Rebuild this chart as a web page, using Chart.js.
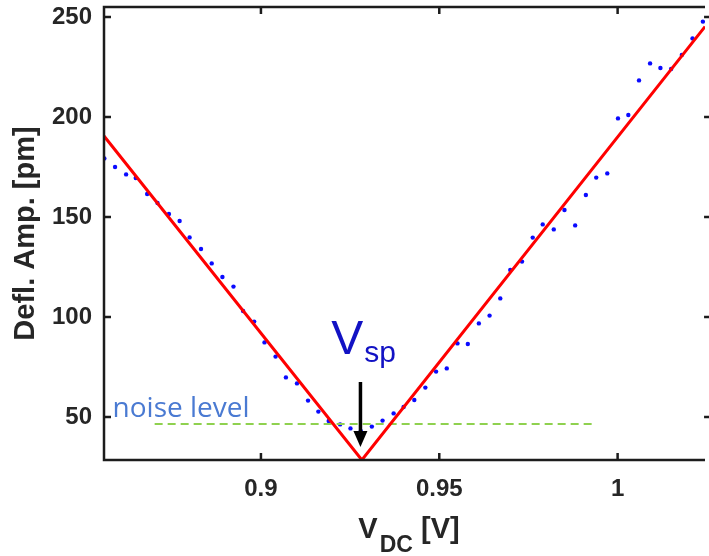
<!DOCTYPE html>
<html>
<head>
<meta charset="utf-8">
<title>Deflection amplitude vs DC bias</title>
<script src="https://cdn.jsdelivr.net/npm/chart.js@4/dist/chart.umd.min.js"></script>
<style>
  html, body { margin: 0; padding: 0; background: #ffffff; }
  #wrap { width: 709px; height: 556px; }
</style>
</head>
<body>
<div id="wrap"><canvas id="c" width="709" height="556"></canvas></div>
<script>
// Measured deflection amplitude [pm] against DC bias [V]
const biasV = [0.8561, 0.8591, 0.8622, 0.8649, 0.8681, 0.8710, 0.8742, 0.8772, 0.8800, 0.8832,
               0.8862, 0.8892, 0.8923, 0.8950, 0.8981, 0.9010, 0.9041, 0.9070, 0.9101, 0.9132,
               0.9161, 0.9190, 0.9222, 0.9251, 0.9280, 0.9311, 0.9341, 0.9372, 0.9400, 0.9430,
               0.9461, 0.9491, 0.9521, 0.9551, 0.9580, 0.9611, 0.9641, 0.9671, 0.9699, 0.9732,
               0.9762, 0.9790, 0.9821, 0.9851, 0.9881, 0.9911, 0.9940, 0.9971, 1.0001, 1.0030,
               1.0060, 1.0091, 1.0120, 1.0150, 1.0180, 1.0210, 1.0239];
const deflAmp = [179.3, 175.0, 171.3, 169.5, 161.5, 157.0, 151.5, 148.0, 139.8, 134.0,
                 126.8, 120.0, 115.2, 103.0, 97.7, 87.3, 80.2, 69.8, 66.8, 58.2,
                 52.7, 48.0, 46.3, 44.3, 43.0, 45.2, 48.2, 51.8, 55.0, 58.5,
                 64.7, 72.7, 74.3, 86.8, 86.5, 96.8, 100.7, 109.3, 123.5, 127.7,
                 139.7, 146.3, 143.8, 153.5, 145.8, 161.0, 169.7, 171.8, 199.3, 201.0,
                 218.3, 226.8, 224.5, 224.0, 231.0, 239.3, 247.7];

// V-shaped linear fit; its minimum marks the surface potential V_sp
const fitV = [0.8560, 0.9283, 1.0245];
const fitAmp = [190.5, 28.5, 245.2];
const vspBias = 0.9279;

// Noise floor
const noiseV = [0.8702, 0.9936];
const noiseAmp = [46.5, 46.5];

// Axis ranges and ticks
const xRange = [0.8560, 1.0245];
const xFrameRight = 1.0262;
const yRange = [28.5, 255];
const xTicks = [0.9, 0.95, 1];
const xTickLabels = ['0.9', '0.95', '1'];
const yTicks = [50, 100, 150, 200, 250];

const AXIS_FONT = '"Liberation Sans", Arial, Helvetica, sans-serif';
const INK = '#262626';

const toPts = (xs, ys) => xs.map((v, i) => ({ x: v, y: ys[i] }));

const framePlugin = {
  id: 'frameAndNotes',
  afterDatasetsDraw(chart) {
    const { ctx, chartArea: a, scales: { x, y } } = chart;
    ctx.save();

    // frame (left, bottom, top) with inward ticks
    ctx.strokeStyle = '#1c1c1c';
    ctx.lineWidth = 2.5;
    ctx.lineCap = 'butt';
    ctx.beginPath();
    ctx.moveTo(a.right, a.top);
    ctx.lineTo(a.left, a.top);
    ctx.lineTo(a.left, a.bottom);
    ctx.lineTo(a.right, a.bottom);
    ctx.stroke();

    const tick = 7;
    const xr = x.getPixelForValue(xFrameRight);
    ctx.beginPath();
    xTicks.forEach(v => {
      const px = x.getPixelForValue(v);
      ctx.moveTo(px, a.bottom); ctx.lineTo(px, a.bottom - tick);
      ctx.moveTo(px, a.top); ctx.lineTo(px, a.top + tick);
    });
    yTicks.forEach(v => {
      const py = y.getPixelForValue(v);
      ctx.moveTo(a.left, py); ctx.lineTo(a.left + tick, py);
      ctx.moveTo(xr, py); ctx.lineTo(xr - tick, py);
    });
    ctx.stroke();

    // noise level caption
    ctx.fillStyle = '#4a7ad2';
    ctx.font = '28px "Open Sans", sans-serif';
    ctx.textAlign = 'left';
    ctx.textBaseline = 'alphabetic';
    ctx.fillText('noise level', x.getPixelForValue(0.8584), y.getPixelForValue(50));

    // V_sp label
    const vx = x.getPixelForValue(0.9197);
    const vy = y.getPixelForValue(81.5);
    ctx.fillStyle = '#1212c4';
    ctx.font = '48px ' + AXIS_FONT;
    ctx.fillText('V', vx, vy);
    const vw = ctx.measureText('V').width;
    ctx.font = '30px ' + AXIS_FONT;
    ctx.fillText('sp', vx + vw + 1, vy + 8);

    // arrow pointing at the fit minimum
    const ax = x.getPixelForValue(vspBias);
    const aTop = y.getPixelForValue(67.5);
    const aTip = y.getPixelForValue(35);
    const headLen = 16, headHalf = 7;
    ctx.strokeStyle = '#000000';
    ctx.fillStyle = '#000000';
    ctx.lineWidth = 3.5;
    ctx.beginPath();
    ctx.moveTo(ax, aTop);
    ctx.lineTo(ax, aTip - headLen + 2);
    ctx.stroke();
    ctx.beginPath();
    ctx.moveTo(ax - headHalf, aTip - headLen);
    ctx.lineTo(ax + headHalf, aTip - headLen);
    ctx.lineTo(ax, aTip);
    ctx.closePath();
    ctx.fill();

    ctx.restore();
  },
  afterDraw(chart) {
    // x-axis title with subscript: V_DC [V]
    const { ctx } = chart;
    ctx.save();
    ctx.fillStyle = INK;
    ctx.textBaseline = 'alphabetic';
    ctx.textAlign = 'left';
    const big = 'bold 29px ' + AXIS_FONT;
    const small = 'bold 23px ' + AXIS_FONT;
    ctx.font = big;
    const wV = ctx.measureText('V').width;
    const wRest = ctx.measureText(' [V]').width;
    ctx.font = small;
    const wSub = ctx.measureText('DC').width;
    const total = wV + 2 + wSub + wRest;
    let cx = 409 - total / 2;
    const base = 538;
    ctx.font = big;
    ctx.fillText('V', cx, base);
    cx += wV + 2;
    ctx.font = small;
    ctx.fillText('DC', cx, base + 14);
    cx += wSub;
    ctx.font = big;
    ctx.fillText(' [V]', cx, base);
    ctx.restore();
  }
};

new Chart(document.getElementById('c'), {
  type: 'scatter',
  data: {
    datasets: [
      {
        label: 'fit',
        data: toPts(fitV, fitAmp),
        showLine: true,
        borderColor: '#ff0000',
        borderWidth: 3,
        pointRadius: 0,
        tension: 0,
        order: 0
      },
      {
        label: 'noise level',
        data: toPts(noiseV, noiseAmp),
        showLine: true,
        borderColor: '#8fd14f',
        borderWidth: 2,
        borderDash: [8, 5],
        pointRadius: 0,
        order: 1
      },
      {
        label: 'measured',
        data: toPts(biasV, deflAmp),
        showLine: false,
        pointRadius: 2.2,
        pointBorderWidth: 0,
        pointBackgroundColor: '#0a0aff',
        order: 2
      }
    ]
  },
  options: {
    responsive: false,
    devicePixelRatio: 1,
    animation: false,
    layout: { padding: { top: 7, right: 0, bottom: 0, left: 0 } },
    plugins: {
      legend: { display: false },
      tooltip: { enabled: false }
    },
    scales: {
      x: {
        type: 'linear',
        min: xRange[0],
        max: xRange[1],
        afterFit: s => { s.height = 96; s.paddingLeft = 0; s.paddingRight = 0; },
        afterBuildTicks: s => { s.ticks = xTicks.map(v => ({ value: v })); },
        grid: { display: false, drawTicks: false },
        border: { display: false },
        ticks: {
          padding: 15,
          color: INK,
          font: { family: AXIS_FONT, size: 24, weight: 'bold' },
          maxRotation: 0,
          callback: v => xTickLabels[xTicks.indexOf(v)] ?? ''
        }
      },
      y: {
        type: 'linear',
        min: yRange[0],
        max: yRange[1],
        afterFit: s => { s.width = 104; s.paddingTop = 0; s.paddingBottom = 0; },
        afterBuildTicks: s => { s.ticks = yTicks.map(v => ({ value: v })); },
        grid: { display: false, drawTicks: false },
        border: { display: false },
        ticks: {
          padding: 12,
          color: INK,
          font: { family: AXIS_FONT, size: 24, weight: 'bold' },
          callback: v => String(v)
        },
        title: {
          display: true,
          text: 'Defl. Amp. [pm]',
          color: INK,
          font: { family: AXIS_FONT, size: 29, weight: 'bold' },
          padding: { top: 9, bottom: 0 }
        }
      }
    }
  },
  plugins: [framePlugin]
});
</script>
</body>
</html>
